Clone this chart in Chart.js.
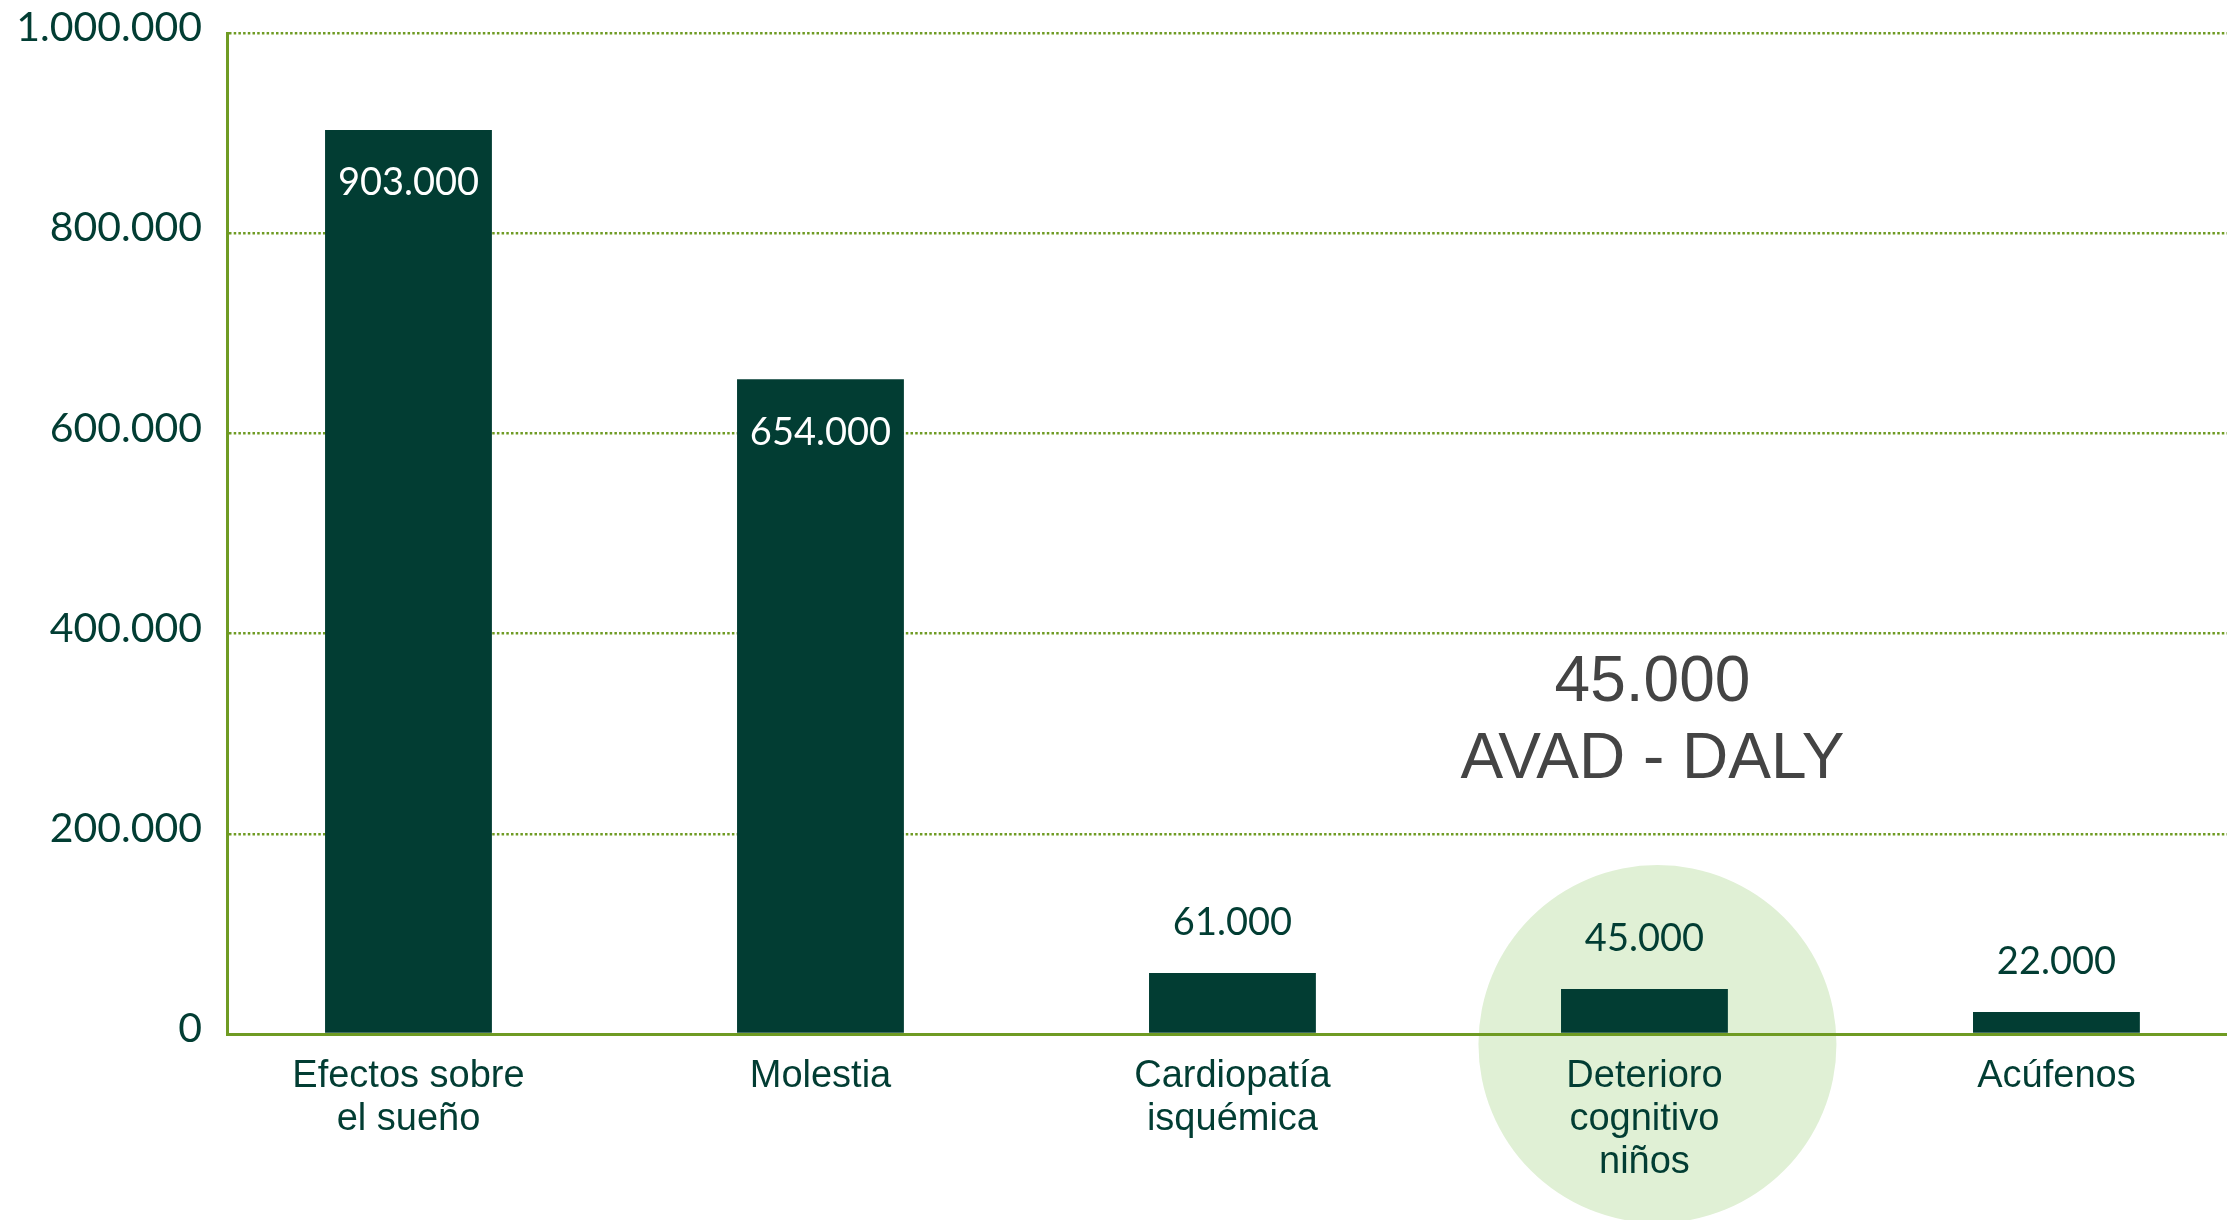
<!DOCTYPE html>
<html lang="es">
<head>
<meta charset="utf-8">
<title>AVAD - DALY</title>
<script src="https://cdn.jsdelivr.net/npm/chart.js@4/dist/chart.umd.min.js"></script>
<style>
  html, body { margin: 0; padding: 0; background: #ffffff; overflow: hidden; }
  canvas { display: block; }
</style>
</head>
<body>
<canvas id="graph" width="2227" height="1220"></canvas>
<script>
// categorías (una línea por elemento)
const categorias = [
  ['Efectos sobre', 'el sueño'],
  ['Molestia'],
  ['Cardiopatía', 'isquémica'],
  ['Deterioro', 'cognitivo', 'niños'],
  ['Acúfenos']
];
// años de vida ajustados por discapacidad
const valores = [903000, 654000, 61000, 45000, 22000];
const ticks_y = [0, 200000, 400000, 600000, 800000, 1000000];
const destacado = 3; // categoría resaltada con el círculo
const texto_destacado = 'AVAD - DALY';

const verde_oscuro = '#023d33';
const verde_eje = '#6f9b23';

// 903000 -> 903.000
const fmt = n => String(n).replace(/\B(?=(\d{3})+(?!\d))/g, '.');

const circulo = {
  id: 'circulo',
  beforeDraw(chart) {
    const ctx = chart.ctx;
    const x = chart.scales.x.getPixelForValue(destacado) + 13;
    const y = chart.scales.y.getPixelForValue(0) + 10;
    ctx.save();
    ctx.fillStyle = '#e0f0d5';
    ctx.beginPath();
    ctx.arc(x, y, 179, 0, Math.PI * 2);
    ctx.fill();
    ctx.restore();
  }
};

const etiquetas = {
  id: 'etiquetas',
  afterDatasetsDraw(chart) {
    const ctx = chart.ctx;
    const meta = chart.getDatasetMeta(0);
    ctx.save();
    ctx.textAlign = 'center';
    ctx.textBaseline = 'middle';
    ctx.font = '38px Lato';
    meta.data.forEach((bar, i) => {
      const v = valores[i];
      if (v > 300000) {
        ctx.fillStyle = '#ffffff';
        ctx.fillText(fmt(v), bar.x, bar.y + 53);
      } else {
        ctx.fillStyle = verde_oscuro;
        ctx.fillText(fmt(v), bar.x, bar.y - 50);
      }
    });
    // rótulo grande sobre la categoría resaltada
    const xa = chart.scales.x.getPixelForValue(destacado) + 8;
    ctx.fillStyle = '#444444';
    ctx.font = '64px "Liberation Sans"';
    ctx.fillText(fmt(valores[destacado]), xa, chart.scales.y.getPixelForValue(350000));
    ctx.fillText(texto_destacado, xa, chart.scales.y.getPixelForValue(273000));
    ctx.restore();
  }
};

const graph = document.getElementById('graph').getContext('2d');

let data_graph = {
  datasets: [{
    data: valores.map((v, i) => ({ x: i, y: v })),
    backgroundColor: verde_oscuro,
    borderWidth: 0,
    categoryPercentage: 1,
    barPercentage: 0.405
  }]
};

var config_graph = {
  type: 'bar',
  data: data_graph,
  plugins: [circulo, etiquetas],
  options: {
    responsive: false,
    animation: false,
    layout: { padding: { top: 33, left: 0, right: 0, bottom: 0 } },
    plugins: {
      legend: { display: false },
      tooltip: { enabled: false }
    },
    scales: {
      x: {
        type: 'linear',
        bounds: 'data',
        min: -0.4405,
        max: 4.414,
        offset: false,
        grid: { display: false, offset: false, drawTicks: false },
        border: { display: true, color: verde_eje, width: 3 },
        ticks: {
          autoSkip: false,
          maxRotation: 0,
          padding: 21,
          color: verde_oscuro,
          font: { family: '"Liberation Sans"', size: 38, lineHeight: 1.13 },
          callback: v => categorias[v] || ''
        },
        afterBuildTicks: s => { s.ticks = categorias.map((c, i) => ({ value: i })); },
        afterFit: s => {
          s.height = 186;
          s.paddingLeft = 0;
          s.paddingRight = 0;
        }
      },
      y: {
        min: 0,
        max: 1000000,
        grid: { color: verde_eje, lineWidth: 2.5, drawTicks: false },
        border: { display: true, color: verde_eje, width: 3, dash: [2.5, 2.2] },
        ticks: {
          padding: 25,
          color: verde_oscuro,
          labelOffset: -5,
          font: { family: 'Lato', size: 41 },
          callback: v => fmt(v)
        },
        afterBuildTicks: s => { s.ticks = ticks_y.map(v => ({ value: v })); },
        afterFit: s => {
          s.width = 227;
          s.paddingTop = 0;
          s.paddingBottom = 0;
        }
      }
    }
  }
};

let chart_avad = new Chart(graph, config_graph);
</script>
</body>
</html>
